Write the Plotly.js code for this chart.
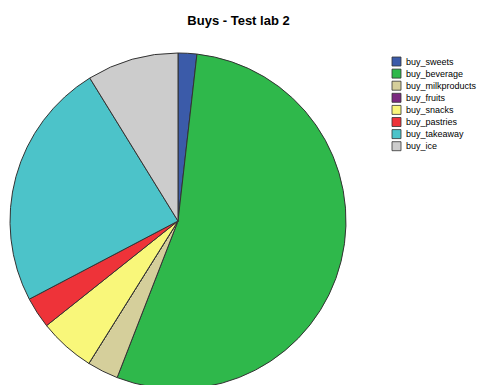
<!DOCTYPE html>
<html>
<head>
<meta charset="utf-8">
<script src="https://cdn.plot.ly/plotly-3.0.1.min.js"></script>
<style>html,body{margin:0;padding:0;overflow:hidden;background:#fff;}#chart{width:477px;height:400px;}</style>
</head>
<body>
<div id="chart"></div>
<script>
var categories = ["buy_sweets","buy_beverage","buy_milkproducts","buy_fruits","buy_snacks","buy_pastries","buy_takeaway","buy_ice"];
var values = [1.8, 54.1, 3.0, 0, 5.4, 3.0, 23.9, 8.8];
var colors = ["#3b5ba9","#2fb84b","#d5cf9b","#7b2a80","#f9f77a","#ee3339","#4cc3c9","#cccccc"];

var W = 477, H = 400, ML = 10, MR = 0, MT = 53, MB = 11;
function px(x){ return (x - ML) / (W - ML - MR); }
function py(y){ return (H - MB - y) / (H - MT - MB); }

var shapes = [], annotations = [];
for (var i = 0; i < categories.length; i++) {
  var itemTop = 57 + i * 12.1;
  shapes.push({type:"rect", xref:"paper", yref:"paper",
    x0: px(392), x1: px(401), y0: py(itemTop), y1: py(itemTop + 9),
    fillcolor: colors[i], line: {color: "#333333", width: 0.8}});
  annotations.push({xref:"paper", yref:"paper", x: px(403.5), y: py(itemTop + 4.5),
    xanchor:"left", yanchor:"middle", showarrow:false, text: categories[i],
    font:{family:"Liberation Sans, Arial, sans-serif", size:9, color:"#000"}});
}

var trace = {
  type: "pie",
  labels: categories,
  values: values,
  sort: false,
  direction: "clockwise",
  rotation: 0,
  textinfo: "none",
  marker: {colors: colors, line: {color: "#333333", width: 1}},
  domain: {x: [0, 336 / (W - ML - MR)], y: [0, 1]},
  showlegend: false
};

var layout = {
  width: W, height: H,
  margin: {l: ML, r: MR, t: MT, b: MB},
  paper_bgcolor: "#ffffff",
  title: {text: "<b>Buys - Test lab 2</b>", x: 0.5, xref: "container", xanchor: "center",
    y: 1 - 20 / H, yref: "container", yanchor: "middle",
    font: {family: "Liberation Sans, Arial, sans-serif", size: 13, color: "#000"}},
  showlegend: false,
  shapes: shapes,
  annotations: annotations
};

Plotly.newPlot("chart", [trace], layout, {displayModeBar: false, staticPlot: true});
</script>
</body>
</html>
